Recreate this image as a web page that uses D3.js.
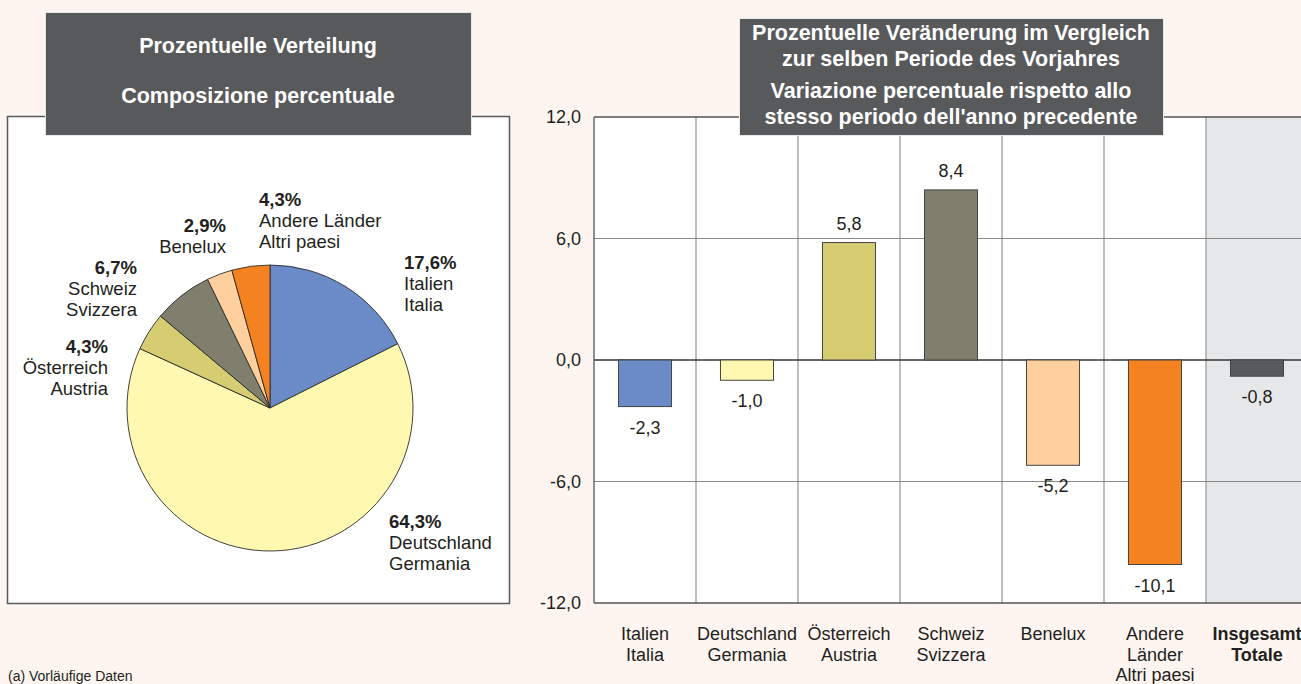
<!DOCTYPE html>
<html><head><meta charset="utf-8">
<script src="https://cdn.jsdelivr.net/npm/d3@7"></script>
<style>
html,body{margin:0;padding:0;background:#fef5f0;}
svg{display:block;font-family:"Liberation Sans",Arial,sans-serif;}
</style></head><body>
<svg id="c" width="1301" height="684"></svg>
<script>
// ---- data ----
const pieNamesDE = ["Italien","Deutschland","Österreich","Schweiz","Benelux","Andere Länder"];
const pieNamesIT = ["Italia","Germania","Austria","Svizzera","","Altri paesi"];
const pieValues = [17.6, 64.3, 4.3, 6.7, 2.9, 4.3];
const pieColors = ["#6a8bc7","#fff8b0","#d6cd73","#807f6d","#ffd09d","#f58220"];

const barCatsDE = ["Italien","Deutschland","Österreich","Schweiz","Benelux","Andere","Insgesamt"];
const barCatsLines = [["Italien","Italia"],["Deutschland","Germania"],["Österreich","Austria"],["Schweiz","Svizzera"],["Benelux"],["Andere","Länder","Altri paesi"],["Insgesamt","Totale"]];
const barValues = [-2.3, -1.0, 5.8, 8.4, -5.2, -10.1, -0.8];
const barColors = ["#6a8bc7","#fff8b0","#d6cd73","#807f6d","#ffd09d","#f58220","#58595b"];
const yTicks = [-12, -6, 0, 6, 12];

const fmt = v => d3.format(".1f")(v).replace(".", ",").replace("−","-");
const txt = "#231f20";
const svg = d3.select("#c");

// ---- left panel ----
svg.append("rect").attr("x",7.5).attr("y",116.5).attr("width",502).attr("height",487)
  .attr("fill","#fff").attr("stroke","#5a5a5a").attr("stroke-width",1.5);

const cx = 270, cy = 408, R = 143;
const pie = d3.pie().sort(null).value(d=>d)(pieValues);
const arc = d3.arc().innerRadius(0).outerRadius(R);
svg.append("g").attr("transform",`translate(${cx},${cy})`)
  .selectAll("path").data(pie).join("path")
  .attr("d",arc).attr("fill",(d,i)=>pieColors[i]).attr("stroke","#2b2b2b").attr("stroke-width",0.9);

// pie labels: [x, anchor, baseline of first line]
const pieLabelPos = [[404,"start",269],[389,"start",528],[108,"end",353],[137,"end",274],[226,"end",232],[259,"start",206]];
pie.forEach((d,i)=>{
  const [x,anchor,y] = pieLabelPos[i];
  const g = svg.append("text").attr("text-anchor",anchor).attr("fill",txt).attr("font-size",18.5);
  g.append("tspan").attr("x",x).attr("y",y).attr("font-weight","bold").text(fmt(pieValues[i])+"%");
  const lines = [pieNamesDE[i], pieNamesIT[i]].filter(s=>s);
  lines.forEach((s,k)=> g.append("tspan").attr("x",x).attr("y",y+21*(k+1)).text(s));
});

// left header
svg.append("rect").attr("x",45.5).attr("y",12.5).attr("width",426).attr("height",123)
  .attr("fill","#58595b").attr("stroke","#e8e8e8").attr("stroke-width",1);
[["Prozentuelle Verteilung",53],["Composizione percentuale",103]].forEach(([s,y])=>{
  svg.append("text").attr("x",258).attr("y",y).attr("text-anchor","middle")
    .attr("fill","#fff").attr("font-weight","bold").attr("font-size",21.5).text(s);
});

// ---- bar chart ----
const x = d3.scaleBand().domain(barCatsDE).range([594,1308]).paddingInner(0).paddingOuter(0);
const y = d3.scaleLinear().domain([-12,12]).range([603,117]);
const bw = x.bandwidth()*0.52;

svg.append("rect").attr("x",594).attr("y",y(12)).attr("width",1308-594).attr("height",y(-12)-y(12)).attr("fill","#fff");
svg.append("rect").attr("x",x("Insgesamt")).attr("y",y(12)).attr("width",x.bandwidth()).attr("height",y(-12)-y(12)).attr("fill","#e6e7e9");

// vertical grid
svg.append("g").selectAll("line").data(barCatsDE.slice(1)).join("line")
  .attr("x1",d=>x(d)).attr("x2",d=>x(d)).attr("y1",y(12)).attr("y2",y(-12))
  .attr("stroke","#a6a8ab").attr("stroke-width",1.5);
// horizontal grid
svg.append("g").selectAll("line").data(yTicks).join("line")
  .attr("x1",594).attr("x2",1308).attr("y1",d=>y(d)).attr("y2",d=>y(d))
  .attr("stroke",d=>d===0?"#333":(Math.abs(d)===12?"#555":"#8a8a8a"))
  .attr("stroke-width",d=>Math.abs(d)===6?1:1.3);
svg.append("line").attr("x1",594).attr("x2",594).attr("y1",y(12)).attr("y2",y(-12)).attr("stroke","#555").attr("stroke-width",1.3);

// y axis labels
const yAxis = d3.axisLeft(y).tickValues(yTicks).tickSize(0).tickPadding(13).tickFormat(fmt);
const ya = svg.append("g").attr("transform","translate(594,0)").call(yAxis);
ya.select(".domain").remove();
ya.selectAll("text").attr("font-size",18).attr("fill",txt).attr("font-family","Liberation Sans, Arial, sans-serif");

// bars
svg.append("g").selectAll("rect").data(barValues).join("rect")
  .attr("x",(d,i)=>x(barCatsDE[i])+(x.bandwidth()-bw)/2)
  .attr("y",d=>y(Math.max(0,d))).attr("width",bw)
  .attr("height",d=>Math.abs(y(d)-y(0)))
  .attr("fill",(d,i)=>barColors[i]).attr("stroke","#444").attr("stroke-width",1);

// value labels
svg.append("g").selectAll("text").data(barValues).join("text")
  .attr("x",(d,i)=>x(barCatsDE[i])+x.bandwidth()/2)
  .attr("y",d=>d>=0? y(d)-13 : y(d)+27)
  .attr("text-anchor","middle").attr("font-size",18).attr("fill",txt)
  .text(d=>fmt(d));

// category labels
barCatsLines.forEach((lines,i)=>{
  const t = svg.append("text").attr("text-anchor","middle").attr("font-size",18).attr("fill",txt)
    .attr("font-weight", i===6?"bold":"normal");
  lines.forEach((s,k)=> t.append("tspan").attr("x",x(barCatsDE[i])+x.bandwidth()/2).attr("y",640+20.5*k).text(s));
});

// right header
svg.append("rect").attr("x",739.5).attr("y",18.5).attr("width",424).attr("height",117)
  .attr("fill","#58595b").attr("stroke","#e8e8e8").attr("stroke-width",1);
[["Prozentuelle Veränderung im Vergleich",40],["zur selben Periode des Vorjahres",66],
 ["Variazione percentuale rispetto allo",98],["stesso periodo dell'anno precedente",124]].forEach(([s,yy])=>{
  svg.append("text").attr("x",951).attr("y",yy).attr("text-anchor","middle")
    .attr("fill","#fff").attr("font-weight","bold").attr("font-size",21.5).text(s);
});

// footnote
svg.append("text").attr("x",8).attr("y",681).attr("font-size",14).attr("fill",txt).text("(a)  Vorläufige Daten");
</script>
</body></html>
